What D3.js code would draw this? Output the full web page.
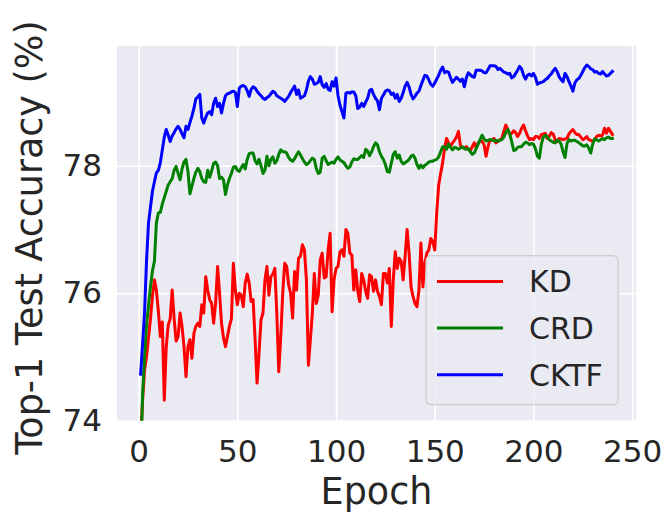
<!DOCTYPE html>
<html>
<head>
<meta charset="utf-8">
<script src="https://cdn.jsdelivr.net/npm/d3@7"></script>
<style>
  body { margin: 0; background: #fff; }
  text { font-family: "DejaVu Sans", sans-serif; fill: #262626; }
</style>
</head>
<body>
<div id="chart"></div>
<script>
var svgWidth = 669;
var svgHeight = 516;

var margin = { top: 46, right: 33, bottom: 95.3, left: 117 };
var chartWidth = svgWidth - margin.left - margin.right;
var chartHeight = svgHeight - margin.top - margin.bottom;

// data, one value per epoch (1..240)
var seriesNames = ["KD", "CRD", "CKTF"];
var seriesColors = ["#ff0000", "#008000", "#0000ff"];
var xTicks = [0, 50, 100, 150, 200, 250];
var yTicks = [74, 76, 78];

var kd = [
  73.7, 74.3, 74.8, 75.0, 75.3, 75.6, 75.95, 76.21, 76.05, 75.72,
  75.32, 75.55, 74.32, 75.16, 75.5, 75.6, 76.05, 75.6, 75.25, 75.32,
  75.69, 75.48, 75.16, 74.69, 75.16, 75.27, 74.98, 75.37, 75.48, 75.53,
  75.48, 75.82, 75.69, 76.26, 76.05, 75.9, 75.84, 75.53, 75.84, 76.42,
  76.0, 75.53, 75.3, 75.16, 75.32, 75.48, 75.6, 76.47, 76.05, 75.82,
  76.0, 75.97, 75.79, 76.16, 76.3, 76.16, 75.87, 75.9, 75.27, 74.59,
  75.06, 75.58, 75.69, 76.21, 76.42, 75.97, 76.26, 76.3, 76.39, 75.69,
  74.77, 75.32, 76.0, 76.47, 76.42, 76.13, 76.0, 75.61, 76.34, 76.05,
  76.55, 76.58, 76.76, 76.68, 76.21, 74.87, 75.27, 75.69, 76.31, 75.84,
  75.97, 76.52, 76.63, 76.24, 76.26, 76.68, 76.94, 75.71, 76.21, 76.39,
  76.42, 76.65, 76.68, 76.58, 77.0, 76.94, 76.63, 76.6, 76.05, 76.37,
  76.03, 75.87, 76.31, 76.21, 76.03, 75.92, 76.29, 76.26, 76.03, 76.21,
  76.03, 75.95, 75.82, 76.31, 76.31, 76.16, 76.39, 75.48, 76.21, 76.65,
  76.39, 76.55, 76.5, 76.21, 76.58, 77.0, 76.63, 76.1, 75.95, 75.84,
  75.79, 76.05, 76.79, 76.1, 76.47, 76.63, 76.68, 76.86, 76.81, 76.68,
  77.26, 77.7, 77.88, 78.05, 78.28, 78.43, 78.36, 78.3, 78.36, 78.4,
  78.45, 78.54, 78.32, 78.29, 78.28, 78.3, 78.26, 78.23, 78.3, 78.36,
  78.28, 78.36, 78.4, 78.38, 78.33, 78.15, 78.3, 78.41, 78.4, 78.43,
  78.36, 78.38, 78.41, 78.43, 78.54, 78.64, 78.57, 78.49, 78.51, 78.55,
  78.52, 78.46, 78.51, 78.59, 78.64, 78.55, 78.47, 78.41, 78.43, 78.41,
  78.46, 78.46, 78.43, 78.49, 78.5, 78.51, 78.43, 78.46, 78.52, 78.5,
  78.41, 78.38, 78.43, 78.42, 78.41, 78.42, 78.43, 78.5, 78.54, 78.57,
  78.52, 78.49, 78.49, 78.45, 78.41, 78.43, 78.46, 78.41, 78.4, 78.38,
  78.41, 78.46, 78.48, 78.47, 78.48, 78.59, 78.51, 78.59, 78.54, 78.49
];

var crd = [
  73.3, 74.4, 75.0, 75.5, 75.8, 76.1, 76.35, 76.5, 77.1, 77.26,
  77.27, 77.4, 77.5, 77.6, 77.7, 77.75, 77.8, 77.93, 77.99, 77.88,
  77.78, 77.95, 78.06, 78.1, 77.91, 77.56, 77.68, 77.8, 77.9, 77.96,
  77.91, 77.8, 77.75, 77.74, 77.93, 77.82, 77.92, 78.04, 78.06, 78.0,
  77.8, 77.82, 77.78, 77.55, 77.7, 77.8, 77.88, 77.98, 77.99, 77.93,
  77.91, 77.97, 78.02, 77.95, 78.1, 78.19, 78.2, 78.2, 78.08, 78.03,
  78.1, 78.0, 77.88, 77.93, 78.15, 78.0, 78.1, 78.14, 78.04, 78.08,
  78.18, 78.25, 78.22, 78.22, 78.2, 78.13, 78.09, 78.07, 78.11, 78.17,
  78.22, 78.17, 78.11, 78.06, 78.02, 78.04, 78.08, 78.12, 78.1, 77.96,
  77.88, 77.9, 78.12, 78.15, 78.08, 78.02, 78.04, 78.06, 78.04, 78.1,
  78.14, 78.09, 78.07, 78.05, 78.0, 77.96, 77.98, 78.06, 78.11, 78.1,
  78.1, 78.13, 78.16, 78.13, 78.26, 78.23, 78.16, 78.22, 78.3, 78.36,
  78.33, 78.22, 78.15, 78.1, 78.02, 77.91, 77.9, 78.04, 78.18, 78.22,
  78.12, 78.17, 78.07, 78.03, 78.05, 78.07, 78.1, 78.15, 78.17, 78.12,
  78.02, 77.96, 78.01, 77.97, 78.01, 78.03, 78.06, 78.07, 78.07, 78.09,
  78.1, 78.14, 78.22, 78.3, 78.3, 78.26, 78.34, 78.29, 78.25, 78.29,
  78.28, 78.26, 78.28, 78.3, 78.27, 78.26, 78.27, 78.22, 78.18, 78.2,
  78.27, 78.34, 78.41, 78.48, 78.42, 78.39, 78.4, 78.41, 78.41, 78.39,
  78.4, 78.39, 78.4, 78.41, 78.45, 78.52, 78.57, 78.5, 78.38, 78.24,
  78.25, 78.29, 78.3, 78.3, 78.34, 78.37, 78.36, 78.33, 78.35, 78.34,
  78.27, 78.15, 78.12, 78.34, 78.45, 78.48, 78.45, 78.41, 78.39, 78.37,
  78.36, 78.4, 78.39, 78.34, 78.22, 78.13, 78.35, 78.41, 78.39, 78.4,
  78.4, 78.38, 78.36, 78.34, 78.31, 78.31, 78.33, 78.28, 78.2, 78.34,
  78.42, 78.41, 78.39, 78.41, 78.43, 78.41, 78.44, 78.45, 78.43, 78.43
];

var cktf = [
  74.73, 75.2, 75.69, 76.5, 77.1, 77.35, 77.6, 77.75, 77.89, 77.93,
  78.05, 78.25, 78.45, 78.57, 78.48, 78.38, 78.47, 78.52, 78.58, 78.62,
  78.57, 78.5, 78.44, 78.62, 78.57, 78.68, 78.78, 78.9, 79.05, 79.08,
  79.12, 78.75, 78.67, 78.76, 78.83, 78.85, 78.8, 78.98, 79.06, 78.93,
  78.98, 78.83, 78.98, 79.1, 79.13, 79.14, 79.16, 79.17, 79.15, 78.93,
  79.22, 79.25, 79.26, 79.24, 79.18, 79.09, 79.2, 79.24, 79.22, 79.17,
  79.13, 79.1, 79.06, 79.04, 79.07, 79.09, 79.13, 79.17, 79.15, 79.1,
  79.08, 79.06, 79.04, 79.01, 79.05, 79.09, 79.15, 79.2, 79.25, 79.12,
  79.19, 79.06, 79.08, 79.1, 79.19, 79.33, 79.4, 79.36, 79.28, 79.29,
  79.31, 79.4, 79.27, 79.23, 79.29, 79.2, 79.18, 79.32, 79.25, 79.38,
  79.1, 78.95, 78.85, 78.75, 79.14, 79.15, 79.14, 79.16, 79.16, 79.1,
  78.9, 78.92, 78.98, 78.93, 79.0, 79.06, 79.18, 79.2, 79.12, 79.06,
  79.02, 78.88, 79.06, 79.11, 79.17, 79.19, 79.18, 79.12, 79.14, 79.06,
  79.12, 79.01, 79.06, 79.15, 79.25, 79.31, 79.24, 79.12, 79.05, 79.09,
  79.14, 79.17, 79.26, 79.34, 79.42, 79.41, 79.35, 79.28, 79.25, 79.3,
  79.36, 79.42, 79.5, 79.55, 79.46, 79.48, 79.47, 79.38, 79.31, 79.35,
  79.39, 79.36, 79.33, 79.36, 79.24, 79.38, 79.46, 79.43, 79.4, 79.39,
  79.5, 79.5, 79.5, 79.49, 79.46, 79.46, 79.51, 79.57, 79.57, 79.57,
  79.56, 79.51, 79.53, 79.5, 79.47, 79.46, 79.44, 79.45, 79.38, 79.4,
  79.45, 79.5, 79.56, 79.52, 79.42, 79.36, 79.42, 79.44, 79.41, 79.45,
  79.39, 79.28, 79.3, 79.31, 79.32, 79.35, 79.37, 79.41, 79.44, 79.49,
  79.53, 79.48, 79.4, 79.35, 79.32, 79.45, 79.4, 79.32, 79.25, 79.17,
  79.3, 79.35, 79.37, 79.42, 79.48, 79.54, 79.58, 79.56, 79.52, 79.51,
  79.47, 79.48, 79.45, 79.44, 79.48, 79.44, 79.41, 79.42, 79.45, 79.48
];

var seriesValues = [kd, crd, cktf];
var epochs = kd.map((d, i) => i + 1);

var svg = d3.select("#chart")
    .append("svg")
    .attr("width", svgWidth)
    .attr("height", svgHeight);

var chartGroup = svg.append("g")
    .attr("transform", `translate(${margin.left}, ${margin.top})`);

// matplotlib-style 5% margins on x
var xPad = (d3.max(epochs) - d3.min(epochs)) * 0.05;
var xLinearScale = d3.scaleLinear()
    .domain([d3.min(epochs) - xPad, d3.max(epochs) + xPad])
    .range([0, chartWidth]);

var yLinearScale = d3.scaleLinear()
    .domain([74, 79.88])
    .range([chartHeight, 0]);

chartGroup.append("rect")
    .attr("width", chartWidth)
    .attr("height", chartHeight)
    .attr("fill", "#eaeaf2");

var bottomAxis = d3.axisBottom(xLinearScale).tickValues(xTicks).tickSize(-chartHeight).tickPadding(12);
var leftAxis = d3.axisLeft(yLinearScale).tickValues(yTicks).tickFormat(d3.format("d"))
    .tickSize(-chartWidth).tickPadding(15);

var xAxisG = chartGroup.append("g")
    .attr("transform", `translate(0, ${chartHeight})`)
    .call(bottomAxis);

var yAxisG = chartGroup.append("g")
    .call(leftAxis);

[xAxisG, yAxisG].forEach(function(g) {
    g.select(".domain").remove();
    g.selectAll(".tick line").attr("stroke", "#ffffff").attr("stroke-width", 1.6);
    g.selectAll(".tick text")
        .attr("fill", "#262626")
        .style("font-family", "DejaVu Sans")
        .style("font-size", "31px");
});
xAxisG.selectAll(".tick text").attr("dy", "0.95em");
yAxisG.selectAll(".tick text").attr("dy", "0.3em");

svg.append("clipPath")
    .attr("id", "plot-clip")
    .append("rect")
    .attr("width", chartWidth)
    .attr("height", chartHeight);

var line = d3.line()
    .x((d, i) => xLinearScale(epochs[i]))
    .y(d => yLinearScale(d));

chartGroup.append("g")
    .attr("clip-path", "url(#plot-clip)")
    .selectAll("path")
    .data(seriesValues)
    .enter()
    .append("path")
    .attr("d", d => line(d))
    .attr("fill", "none")
    .attr("stroke", (d, i) => seriesColors[i])
    .attr("stroke-width", 3)
    .attr("stroke-linejoin", "round")
    .attr("stroke-linecap", "square");

// legend
var legend = chartGroup.append("g")
    .attr("transform", `translate(${chartWidth - 210}, ${chartHeight - 165})`);

legend.append("rect")
    .attr("width", 192)
    .attr("height", 149)
    .attr("rx", 5)
    .attr("fill", "#eaeaf2")
    .attr("fill-opacity", 0.8)
    .attr("stroke", "#cccccc")
    .attr("stroke-width", 1.2);

var legendItems = legend.selectAll("g.item")
    .data(seriesNames)
    .enter()
    .append("g")
    .classed("item", true)
    .attr("transform", (d, i) => `translate(0, ${25.7 + i * 46.7})`);

legendItems.append("line")
    .attr("x1", 11)
    .attr("x2", 77)
    .attr("stroke", (d, i) => seriesColors[i])
    .attr("stroke-width", 3);

legendItems.append("text")
    .attr("x", 103)
    .attr("dy", "0.36em")
    .style("font-size", "30px")
    .text(d => d);

// axis labels
chartGroup.append("text")
    .attr("x", chartWidth / 2)
    .attr("y", chartHeight + 83)
    .attr("text-anchor", "middle")
    .style("font-size", "36.5px")
    .text("Epoch");

chartGroup.append("text")
    .attr("transform", "rotate(-90)")
    .attr("x", -(237.5 - margin.top))
    .attr("y", 42 - margin.left)
    .attr("text-anchor", "middle")
    .style("font-size", "36.5px")
    .text("Top-1 Test Accuracy (%)");
</script>
</body>
</html>
